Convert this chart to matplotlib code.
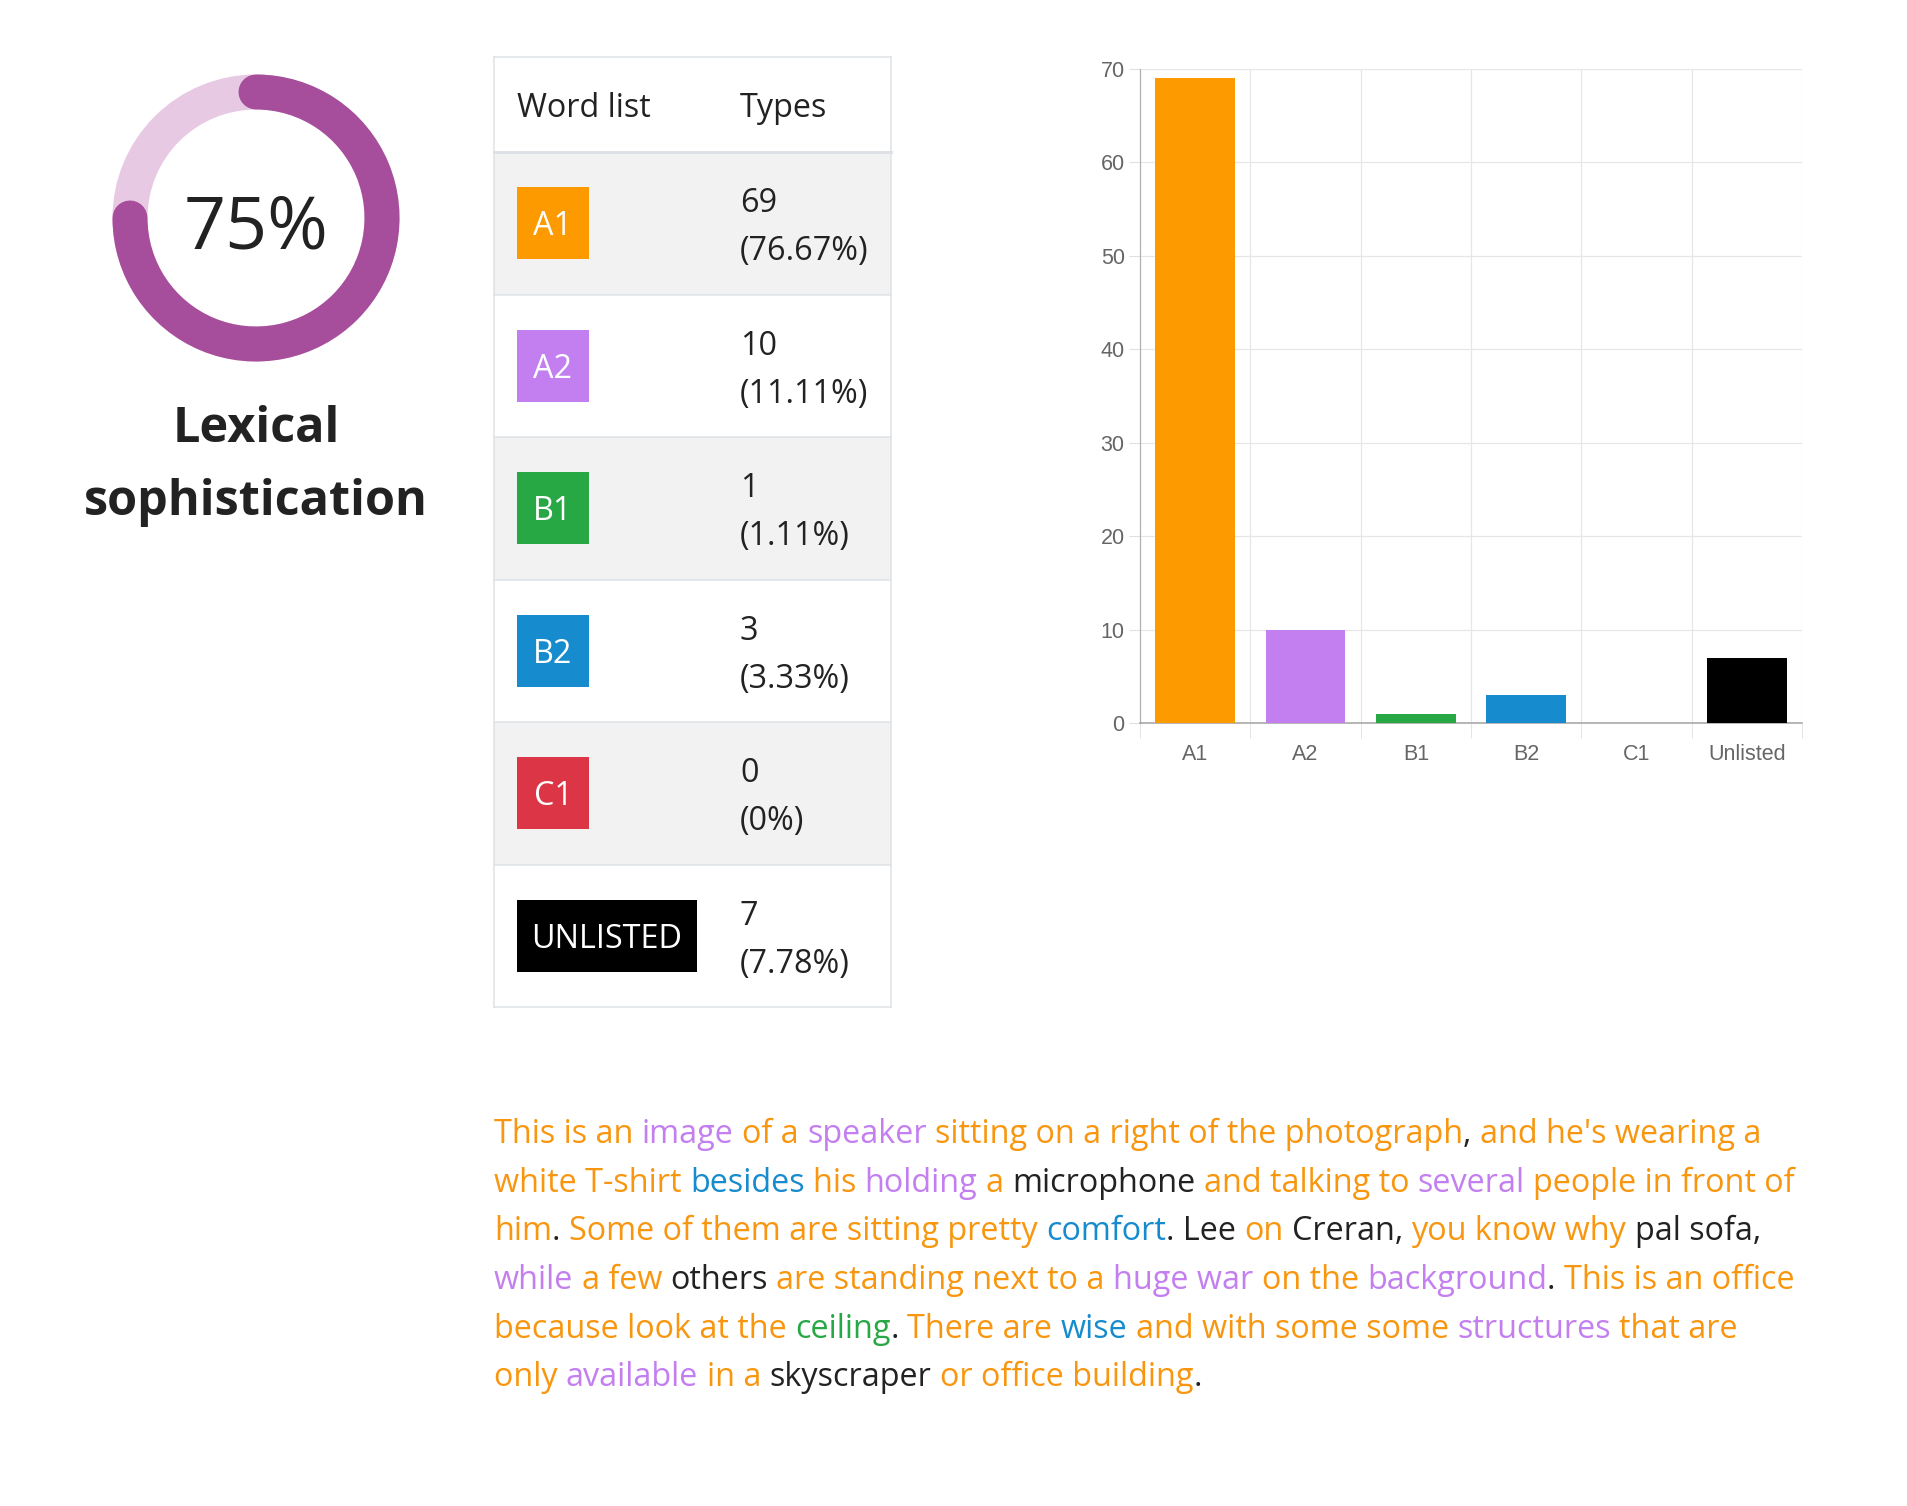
import matplotlib
matplotlib.use("Agg")
import matplotlib.pyplot as plt
from matplotlib.patches import Rectangle, Arc, Circle
import numpy as np

# ---- data ----
levels = ["A1", "A2", "B1", "B2", "C1", "Unlisted"]
badge_labels = ["A1", "A2", "B1", "B2", "C1", "UNLISTED"]
counts = [69, 10, 1, 3, 0, 7]
level_colors = ["#fd9a00", "#c37ff0", "#28a745", "#168bcd", "#dc3545", "#000000"]
sophistication_pct = 75
y_ticks = [0, 10, 20, 30, 40, 50, 60, 70]

# paragraph: one list of (text, level) per displayed line; "P" = punctuation
paragraph = [
    [("This is an ", "A1"), ("image", "A2"), (" of a ", "A1"), ("speaker", "A2"),
     (" sitting on a right of the photograph", "A1"), (",", "P"), (" and he's wearing a", "A1")],
    [("white T-shirt ", "A1"), ("besides", "B2"), (" his ", "A1"), ("holding", "A2"),
     (" a ", "A1"), ("microphone", "Unlisted"), (" and talking to ", "A1"), ("several", "A2"),
     (" people in front of", "A1")],
    [("him", "A1"), (". ", "P"), ("Some of them are sitting pretty ", "A1"), ("comfort", "B2"),
     (". Lee ", "Unlisted"), ("on", "A1"), (" Creran, ", "Unlisted"), ("you know why", "A1"),
     (" pal sofa,", "Unlisted")],
    [("while", "A2"), (" a few ", "A1"), ("others", "Unlisted"), (" are standing next to a ", "A1"),
     ("huge war", "A2"), (" on the ", "A1"), ("background", "A2"), (". ", "P"),
     ("This is an office", "A1")],
    [("because look at the ", "A1"), ("ceiling", "B1"), (". ", "P"), ("There are ", "A1"),
     ("wise", "B2"), (" and with some some ", "A1"), ("structures", "A2"), (" that are", "A1")],
    [("only ", "A1"), ("available", "A2"), (" in a ", "A1"), ("skyscraper", "Unlisted"),
     (" or office building", "A1"), (".", "P")],
]

W, H = 1908, 1506
DPI = 100
PX = 72 / DPI  # points per pixel
TXT = "#222222"
FONT = ["Open Sans", "DejaVu Sans"]
FS = 23.3

fig = plt.figure(figsize=(W / DPI, H / DPI), dpi=DPI)
page = fig.add_axes([0, 0, 1, 1])
page.set_xlim(0, W)
page.set_ylim(H, 0)
page.axis("off")

# ---- donut ----
cx, cy, r_mid, ring_w = 256, 218, 126, 35
page.add_patch(Circle((cx, cy), r_mid, fill=False, lw=ring_w * PX, color="#e8c9e3"))
page.add_patch(Arc((cx, cy), 2 * r_mid, 2 * r_mid, theta1=270,
                   theta2=270 + 360 * sophistication_pct / 100,
                   lw=ring_w * PX, color="#a64d9b", capstyle="round"))
page.text(cx, 248, f"{sophistication_pct}%", ha="center", va="baseline",
          fontsize=53, color=TXT, family=FONT)
page.text(cx, 442, "Lexical", ha="center", va="baseline", fontsize=35,
          fontweight="bold", color=TXT, family=FONT)
page.text(cx, 515, "sophistication", ha="center", va="baseline", fontsize=35,
          fontweight="bold", color=TXT, family=FONT)

# ---- table ----
tx0, tx1 = 494, 891
t_top, head_bot, row_h = 57, 152, 142.5
grid_c = "#dee2e6"
total = sum(counts)
page.text(517, 117, "Word list", fontsize=FS, color=TXT, va="baseline", family=FONT)
page.text(740, 117, "Types", fontsize=FS, color=TXT, va="baseline", family=FONT)
for i, (lab, n, col) in enumerate(zip(badge_labels, counts, level_colors)):
    y0 = head_bot + i * row_h
    yc = y0 + row_h / 2
    page.add_patch(Rectangle((tx0, y0), tx1 - tx0, row_h,
                             facecolor="#f2f2f2" if i % 2 == 0 else "white",
                             edgecolor="none", zorder=0))
    page.plot([tx0, tx1], [y0, y0], color=grid_c, lw=1.5 * PX if i else 3 * PX, zorder=2)
    bw = 180 if lab == "UNLISTED" else 72
    page.add_patch(Rectangle((517, yc - 36), bw, 72, facecolor=col, edgecolor="none", zorder=3))
    page.text(517 + bw / 2, yc + 12, lab, ha="center", va="baseline", fontsize=FS,
              color="white", family=FONT, zorder=4)
    pct = 100 * n / total
    pct_s = "0" if n == 0 else f"{pct:.2f}"
    page.text(740, yc - 11, f"{n}", fontsize=FS, color=TXT, va="baseline", family=FONT)
    page.text(740, yc + 37, f"({pct_s}%)", fontsize=FS, color=TXT, va="baseline", family=FONT)
t_bot = head_bot + len(counts) * row_h
page.plot([tx0, tx1], [t_top, t_top], color=grid_c, lw=1.5 * PX)
page.plot([tx0, tx1], [t_bot, t_bot], color=grid_c, lw=1.5 * PX)
page.plot([tx0, tx0], [t_top, t_bot], color=grid_c, lw=1.5 * PX)
page.plot([tx1, tx1], [t_top, t_bot], color=grid_c, lw=1.5 * PX)

# ---- coloured paragraph ----
text_colors = dict(zip(levels, level_colors))
text_colors["A1"] = "#f8960f"
text_colors["Unlisted"] = TXT
text_colors["P"] = TXT
fig.canvas.draw()
renderer = fig.canvas.get_renderer()


def text_width(s):
    probe = page.text(0, 0, s + "|", fontsize=FS, family=FONT)
    bar = page.text(0, 0, "|", fontsize=FS, family=FONT)
    w = probe.get_window_extent(renderer).width - bar.get_window_extent(renderer).width
    probe.remove()
    bar.remove()
    return w


px0, base0, line_step = 494, 1143, 48.7
for k, line in enumerate(paragraph):
    yb = base0 + k * line_step
    prefix = ""
    for seg, lvl in line:
        stripped = seg.lstrip(" ")
        lead = prefix + seg[:len(seg) - len(stripped)]
        x = px0 + (text_width(lead) if lead else 0)
        page.text(x, yb, stripped, fontsize=FS, color=text_colors[lvl],
                  va="baseline", ha="left", family=FONT)
        prefix += seg

# ---- bar chart ----
ax = fig.add_axes([1140 / W, 1 - 723 / H, (1802 - 1140) / W, (723 - 69) / H])
x = np.arange(len(levels))
ax.bar(x, counts, width=0.72, color=level_colors, zorder=3)
ax.set_xlim(-0.5, len(levels) - 0.5)
ax.set_ylim(0, 70)
ax.set_yticks(y_ticks)
ax.set_xticks(x)
ax.set_xticklabels(levels)
ax.set_xticks(np.arange(-0.5, len(levels), 1), minor=True)
ax.grid(which="minor", axis="x", color="#e6e6e6", lw=1.2 * PX)
ax.grid(which="major", axis="y", color="#e6e6e6", lw=1.2 * PX)
ax.set_axisbelow(True)
for s in ["top", "right"]:
    ax.spines[s].set_visible(False)
ax.spines["left"].set_color("#b0b0b0")
ax.spines["bottom"].set_color("#a0a0a0")
ax.spines["left"].set_linewidth(1.2 * PX)
ax.spines["bottom"].set_linewidth(1.5 * PX)
ax.tick_params(axis="y", length=8, color="#e0e0e0", pad=3, labelsize=15.5, labelcolor="#666666")
ax.tick_params(axis="x", which="major", length=0, pad=15, labelsize=15.5, labelcolor="#666666")
ax.tick_params(axis="x", which="minor", length=11, color="#e0e0e0")
for lab in ax.get_xticklabels() + ax.get_yticklabels():
    lab.set_family(["Liberation Sans", "DejaVu Sans"])

fig.savefig("out.png", dpi=DPI)
